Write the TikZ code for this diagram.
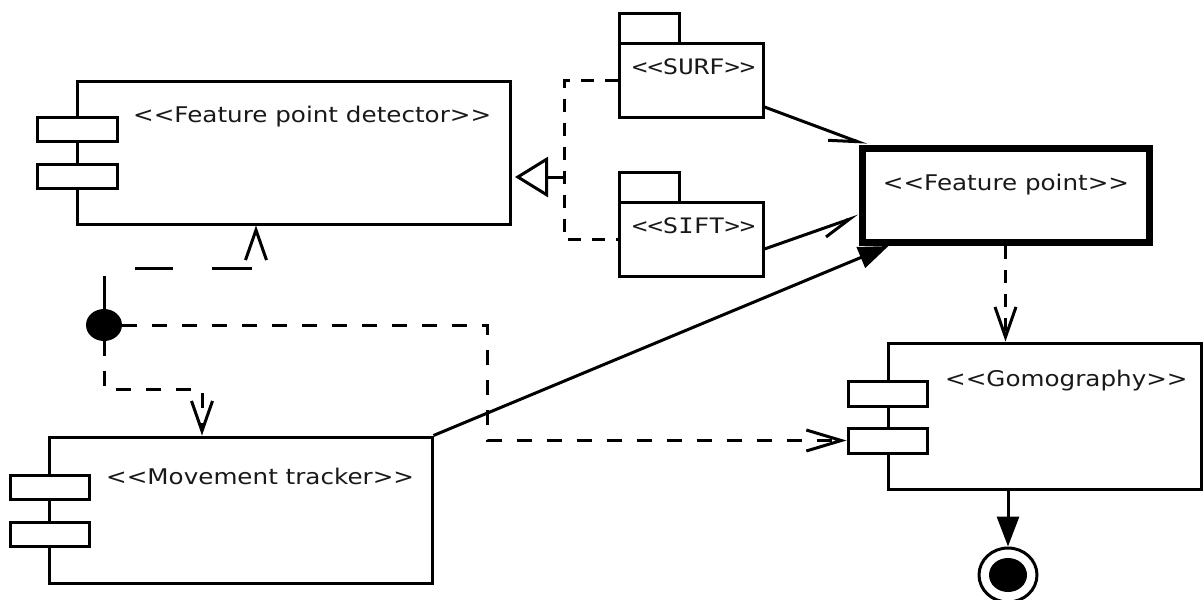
\documentclass[tikz,border=0pt]{standalone}
\usepackage{fontspec}
\usetikzlibrary{arrows.meta,shapes.geometric}
\newfontfamily\lblfont[FakeStretch=1.14,Ligatures=TeXOff]{DejaVu Sans}
\newfontfamily\pkgfont[FakeStretch=1.2,Ligatures=TeXOff]{DejaVu Sans Mono}
\begin{document}
\begin{tikzpicture}[x=1pt,y=-1pt,
  comp/.style={draw, line width=3pt, fill=white, inner sep=0pt},
  port/.style={draw, line width=3pt, fill=white, minimum width=80pt, minimum height=24pt, inner sep=0pt},
  pkg/.style={draw, line width=3pt, fill=white, inner sep=0pt},
  lbl/.style={text=black!90, font=\lblfont\fontsize{21.6}{23}\selectfont, inner sep=0pt},
  ptxt/.style={text=black!90, font=\pkgfont\fontsize{21.3}{23}\selectfont, inner sep=0pt},
  conn/.style={line width=3pt},
  dsh/.style={line width=3pt, dash pattern=on 15pt off 15pt},
  dshs/.style={line width=3pt, dash pattern=on 13pt off 11pt},
  barb/.style={-{Straight Barb[length=30pt,width=21pt,line width=3pt]}},
  hbarb/.style={-{Straight Barb[right,length=28pt,width=18pt,line width=3pt]}},
  ftri/.style={-{Triangle[length=30pt,width=22pt]}},
]
\useasboundingbox (0,0) rectangle (1203,600);

% Feature point detector
\node[comp, minimum width=433pt, minimum height=143pt] (fpd) at (293.5,152.5) {};
\node[port] (fpdp1) at (77,129) {};
\node[port] (fpdp2) at (77,176.5) {};
\node[lbl, anchor=west] (fpdt) at (133,117) {<<Feature point detector>>};

% Movement tracker
\node[comp, minimum width=383pt, minimum height=146pt] (mt) at (240.5,510) {};
\node[port, minimum width=79pt] (mtp1) at (49.5,487) {};
\node[port, minimum width=79pt] (mtp2) at (49.5,534.5) {};
\node[lbl, anchor=west] (mtt) at (106,476) {<<Movement tracker>>};

% Gomography
\node[comp, minimum width=313pt, minimum height=146pt] (gom) at (1044.5,416) {};
\node[port, minimum width=79pt, minimum height=25pt] (gomp1) at (887.5,393.5) {};
\node[port, minimum width=79pt, minimum height=25pt] (gomp2) at (887.5,440.5) {};
\node[lbl, anchor=west] (gomt) at (945,381) {<<Gomography>>};

% Feature point
\node[draw, line width=7pt, minimum width=287pt, minimum height=94pt, inner sep=0pt] (fp) at (1005.5,195.5) {};
\node[lbl] (fpt) at (1006,185) {<<Feature point>>};

% Packages
\node[pkg, minimum width=60pt, minimum height=30pt] (surftab) at (649,28) {};
\node[pkg, minimum width=144pt, minimum height=74pt] (surf) at (691,80) {};
\node[ptxt, anchor=west] (surft) at (632,67) {<<SURF>>};
\node[pkg, minimum width=60pt, minimum height=30pt] (sifttab) at (649,187) {};
\node[pkg, minimum width=144pt, minimum height=74pt] (sift) at (691,239) {};
\node[ptxt, anchor=west] (siftt) at (632,226) {<<SIFT>>};

% Dot and final state
\node[ellipse, fill=black, minimum width=36pt, minimum height=32pt, inner sep=0pt] (dot) at (104,325) {};
\node[ellipse, draw, line width=3pt, fill=white, minimum width=58pt, minimum height=54pt, inner sep=0pt] (fin) at (1008,575) {};
\node[ellipse, fill=black, minimum width=38pt, minimum height=34pt, inner sep=0pt] (finin) at (fin.center) {};

% Generalization SURF/SIFT -> detector
\coordinate (gj) at (564,177);
\draw[dshs] (surf.west) -| (gj) |- (sift.west);
\draw[conn, -{Triangle[open,length=33pt,width=40pt,line width=3pt]}, shorten >=3.5pt] (gj) -- (fpd.east |- gj);

% SURF, SIFT -> Feature point
\draw[conn, hbarb] ([yshift=-27pt]surf.east) -- ([xshift=8pt]fp.north west);
\draw[conn, hbarb] ([yshift=-10pt]sift.east) -- ([yshift=-20.5pt]fp.west);

% Movement tracker -> Feature point
\draw[conn, ftri] (mt.north east) -- ([xshift=30pt]fp.south west);

% Feature point -> Gomography
\draw[dshs, barb] (fp.south) -- (fp.south |- gom.north);

% Gomography -> final
\draw[conn, ftri] (fin.north |- gom.south) -- (fin.north);

% Dot connectors
\coordinate (c1) at (256,268);
\draw[line width=3pt, dash pattern=on 33pt off 39pt on 38pt off 39pt on 40pt off 100pt, barb] (dot.north) |- (c1) -- (c1 |- fpd.south);
\coordinate (c2) at (202,389);
\draw[dsh, barb] (dot.south) |- (c2) -- (c2 |- mt.north);
\coordinate (c3) at (487,325);
\draw[dsh, -{Straight Barb[length=35pt,width=21pt,line width=3pt]}] (dot.east) -- (c3) |- (gomp2.west);
\end{tikzpicture}
\end{document}
